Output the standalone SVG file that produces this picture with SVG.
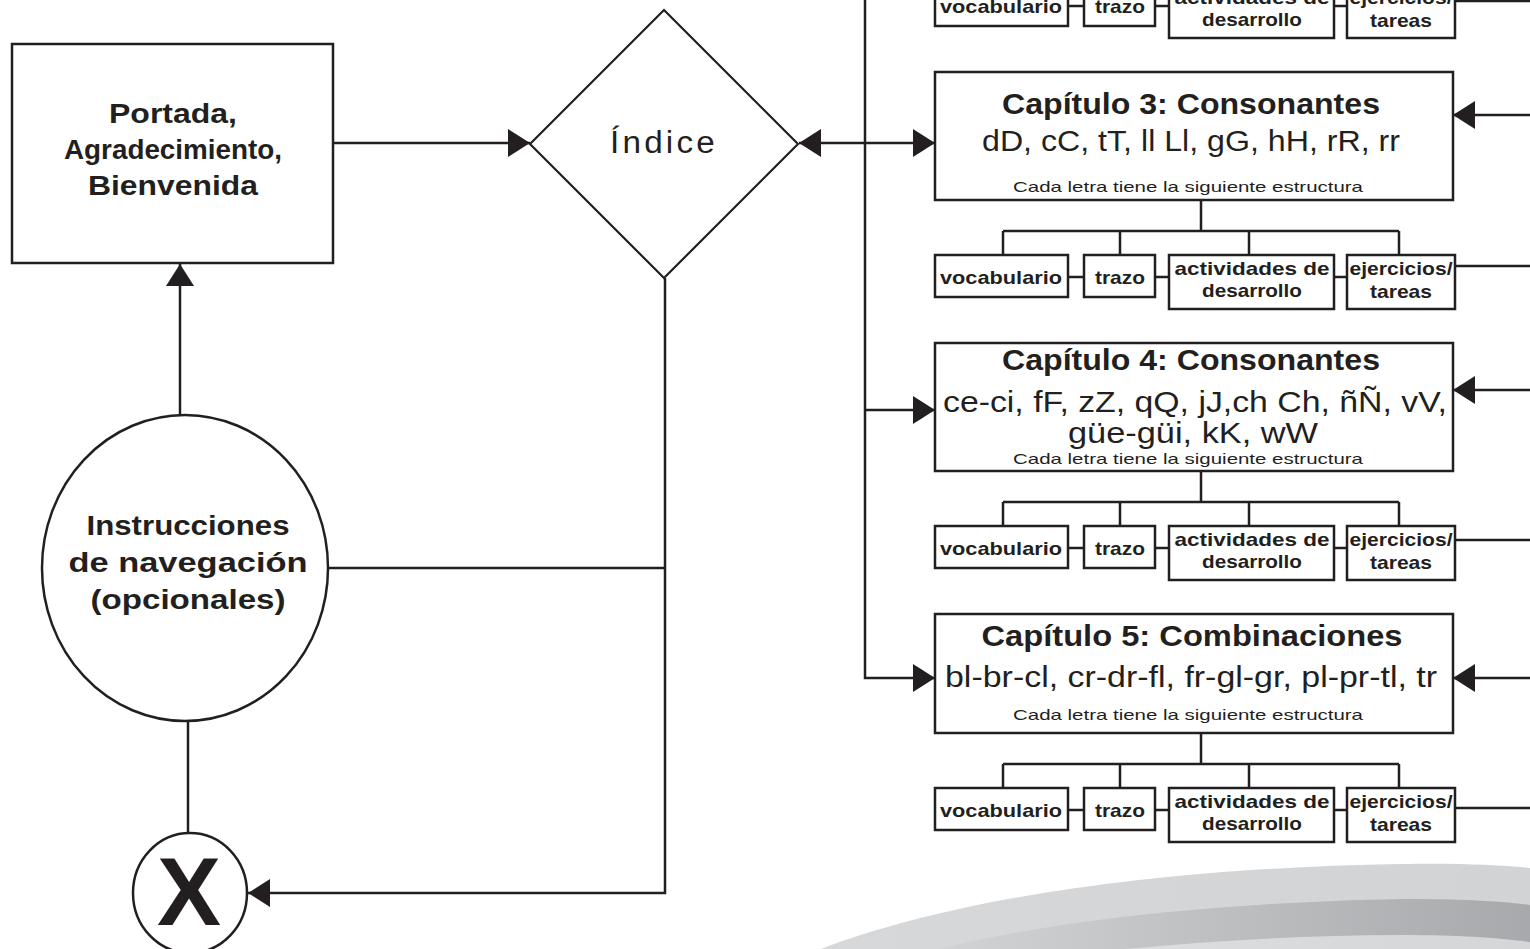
<svg xmlns="http://www.w3.org/2000/svg" width="1530" height="949" viewBox="0 0 1530 949">
<style>
.bx{fill:#fff;stroke:#231f20;stroke-width:2.5}
.ln{fill:none;stroke:#231f20;stroke-width:2.5}
.t{font-family:"Liberation Sans",Arial,sans-serif;fill:#231f20;text-anchor:middle}
.b{font-weight:bold}
.ttl{font-size:29px;font-weight:bold}
.lt{font-size:30px}
.sm{font-size:15px}
.sb{font-size:19px;font-weight:bold}
</style>
<defs>
<marker id="ah" viewBox="0 0 22 28" refX="22" refY="14" markerWidth="22" markerHeight="28" markerUnits="userSpaceOnUse" orient="auto-start-reverse"><path d="M0,0 L22,14 L0,28 Z" fill="#231f20"/></marker>
<linearGradient id="g1" x1="0" x2="1" y1="0" y2="0"><stop offset="0" stop-color="#d7d8da"/><stop offset="1" stop-color="#d2d3d5"/></linearGradient>
<linearGradient id="g2" x1="0" x2="1" y1="0" y2="0"><stop offset="0" stop-color="#d2d3d5"/><stop offset="1" stop-color="#a8a9ac"/></linearGradient>
<linearGradient id="g3" x1="0" x2="1" y1="0" y2="0"><stop offset="0" stop-color="#dcdddf"/><stop offset="1" stop-color="#d5d6d8"/></linearGradient>
</defs>

<g id="swoosh">
<path d="M821,949 C950,900 1150,868 1402,864 C1460,863 1500,865 1530,868 L1530,949 Z" fill="url(#g1)"/>
<path d="M938,949 C1050,922 1200,903 1402,899 C1460,899 1500,901 1530,905 L1530,949 Z" fill="url(#g2)"/>
<path d="M1124,949 C1200,942 1300,935 1402,935 C1460,935 1500,938 1530,942 L1530,949 Z" fill="url(#g3)"/>
</g>

<g id="connectors">
<line class="ln" x1="333" y1="143" x2="530" y2="143" marker-end="url(#ah)"/>
<line class="ln" x1="180" y1="415" x2="180" y2="264" marker-end="url(#ah)"/>
<line class="ln" x1="188" y1="721" x2="188" y2="833"/>
<line class="ln" x1="328" y1="568" x2="665" y2="568"/>
<polyline class="ln" points="665,278 665,893 248,893" marker-end="url(#ah)"/>
<line class="ln" x1="799" y1="143" x2="935" y2="143" marker-start="url(#ah)" marker-end="url(#ah)"/>
<polyline class="ln" points="865,0 865,678 935,678" marker-end="url(#ah)"/>
<line class="ln" x1="865" y1="410" x2="935" y2="410" marker-end="url(#ah)"/>
<line class="ln" x1="1530" y1="115" x2="1453" y2="115" marker-end="url(#ah)"/>
<line class="ln" x1="1530" y1="390" x2="1453" y2="390" marker-end="url(#ah)"/>
<line class="ln" x1="1530" y1="678" x2="1453" y2="678" marker-end="url(#ah)"/>
<path class="ln" d="M1201,200 V231 M1003,231 H1399 M1003,231 V255 M1120,231 V255 M1249,231 V255 M1399,231 V255"/>
<path class="ln" d="M1201,471 V502 M1003,502 H1399 M1003,502 V526 M1120,502 V526 M1249,502 V526 M1399,502 V526"/>
<path class="ln" d="M1201,733 V764 M1003,764 H1399 M1003,764 V788 M1120,764 V788 M1249,764 V788 M1399,764 V788"/>
<path class="ln" d="M1068,6 H1084 M1155,6 H1169 M1334,6 H1347 M1455,1 H1530"/>
<path class="ln" d="M1068,277 H1084 M1155,277 H1169 M1334,277 H1347 M1455,266 H1530"/>
<path class="ln" d="M1068,548 H1084 M1155,548 H1169 M1334,548 H1347 M1455,540 H1530"/>
<path class="ln" d="M1068,810 H1084 M1155,810 H1169 M1334,810 H1347 M1455,808 H1530"/>
</g>

<g id="portada">
<rect class="bx" x="12" y="44" width="321" height="219"/>
<text class="t b" font-size="28" x="173" y="123" textLength="128" lengthAdjust="spacingAndGlyphs">Portada,</text>
<text class="t b" font-size="28" x="173" y="159" textLength="218" lengthAdjust="spacingAndGlyphs">Agradecimiento,</text>
<text class="t b" font-size="28" x="173" y="195" textLength="170" lengthAdjust="spacingAndGlyphs">Bienvenida</text>
</g>

<g id="indice">
<polygon class="bx" points="664,10 798,144 664,278 530,144" style="stroke-width:2.2"/>
<text class="t" font-size="31" x="664" y="153" textLength="108" lengthAdjust="spacingAndGlyphs" letter-spacing="3">Índice</text>
</g>

<g id="instrucciones">
<ellipse class="bx" cx="185" cy="568" rx="143" ry="153"/>
<text class="t b" font-size="28" x="188" y="535" textLength="203" lengthAdjust="spacingAndGlyphs">Instrucciones</text>
<text class="t b" font-size="28" x="188" y="572" textLength="239" lengthAdjust="spacingAndGlyphs">de navegación</text>
<text class="t b" font-size="28" x="188" y="609" textLength="195" lengthAdjust="spacingAndGlyphs">(opcionales)</text>
</g>

<g id="salir">
<ellipse class="bx" cx="190" cy="893" rx="57" ry="60"/>
<text class="t b" font-size="96" x="189" y="925">X</text>
</g>

<g id="row2">
<rect class="bx" x="935" y="-16" width="133" height="42"/>
<text class="t sb" x="1001" y="13" textLength="122" lengthAdjust="spacingAndGlyphs">vocabulario</text>
<rect class="bx" x="1084" y="-16" width="71" height="42"/>
<text class="t sb" x="1120" y="13" textLength="50" lengthAdjust="spacingAndGlyphs">trazo</text>
<rect class="bx" x="1169" y="-16" width="165" height="54"/>
<text class="t sb" x="1252" y="4" textLength="155" lengthAdjust="spacingAndGlyphs">actividades de</text>
<text class="t sb" x="1252" y="26" textLength="100" lengthAdjust="spacingAndGlyphs">desarrollo</text>
<rect class="bx" x="1347" y="-16" width="108" height="54"/>
<text class="t sb" x="1401" y="4" textLength="103" lengthAdjust="spacingAndGlyphs">ejercicios/</text>
<text class="t sb" x="1401" y="27" textLength="62" lengthAdjust="spacingAndGlyphs">tareas</text>
</g>

<g id="cap3">
<rect class="bx" x="935" y="72" width="518" height="128"/>
<text class="t ttl" x="1191" y="114" textLength="378" lengthAdjust="spacingAndGlyphs">Capítulo 3: Consonantes</text>
<text class="t lt" x="1191" y="151" textLength="418" lengthAdjust="spacingAndGlyphs">dD, cC, tT, ll Ll, gG, hH, rR, rr</text>
<text class="t sm" x="1188" y="192" textLength="350" lengthAdjust="spacingAndGlyphs">Cada letra tiene la siguiente estructura</text>
</g>

<g id="row3">
<rect class="bx" x="935" y="255" width="133" height="42"/>
<text class="t sb" x="1001" y="284" textLength="122" lengthAdjust="spacingAndGlyphs">vocabulario</text>
<rect class="bx" x="1084" y="255" width="71" height="42"/>
<text class="t sb" x="1120" y="284" textLength="50" lengthAdjust="spacingAndGlyphs">trazo</text>
<rect class="bx" x="1169" y="255" width="165" height="54"/>
<text class="t sb" x="1252" y="275" textLength="155" lengthAdjust="spacingAndGlyphs">actividades de</text>
<text class="t sb" x="1252" y="297" textLength="100" lengthAdjust="spacingAndGlyphs">desarrollo</text>
<rect class="bx" x="1347" y="255" width="108" height="54"/>
<text class="t sb" x="1401" y="275" textLength="103" lengthAdjust="spacingAndGlyphs">ejercicios/</text>
<text class="t sb" x="1401" y="298" textLength="62" lengthAdjust="spacingAndGlyphs">tareas</text>
</g>

<g id="cap4">
<rect class="bx" x="935" y="343" width="518" height="128"/>
<text class="t ttl" x="1191" y="370" textLength="378" lengthAdjust="spacingAndGlyphs">Capítulo 4: Consonantes</text>
<text class="t lt" x="1195" y="412" textLength="504" lengthAdjust="spacingAndGlyphs">ce-ci, fF, zZ, qQ, jJ,ch Ch, ñÑ, vV,</text>
<text class="t lt" x="1193" y="443" textLength="250" lengthAdjust="spacingAndGlyphs">güe-güi, kK, wW</text>
<text class="t sm" x="1188" y="464" textLength="350" lengthAdjust="spacingAndGlyphs">Cada letra tiene la siguiente estructura</text>
</g>

<g id="row4">
<rect class="bx" x="935" y="526" width="133" height="42"/>
<text class="t sb" x="1001" y="555" textLength="122" lengthAdjust="spacingAndGlyphs">vocabulario</text>
<rect class="bx" x="1084" y="526" width="71" height="42"/>
<text class="t sb" x="1120" y="555" textLength="50" lengthAdjust="spacingAndGlyphs">trazo</text>
<rect class="bx" x="1169" y="526" width="165" height="54"/>
<text class="t sb" x="1252" y="546" textLength="155" lengthAdjust="spacingAndGlyphs">actividades de</text>
<text class="t sb" x="1252" y="568" textLength="100" lengthAdjust="spacingAndGlyphs">desarrollo</text>
<rect class="bx" x="1347" y="526" width="108" height="54"/>
<text class="t sb" x="1401" y="546" textLength="103" lengthAdjust="spacingAndGlyphs">ejercicios/</text>
<text class="t sb" x="1401" y="569" textLength="62" lengthAdjust="spacingAndGlyphs">tareas</text>
</g>

<g id="cap5">
<rect class="bx" x="935" y="614" width="518" height="119"/>
<text class="t ttl" x="1192" y="646" textLength="421" lengthAdjust="spacingAndGlyphs">Capítulo 5: Combinaciones</text>
<text class="t lt" x="1191" y="687" textLength="492" lengthAdjust="spacingAndGlyphs">bl-br-cl, cr-dr-fl, fr-gl-gr, pl-pr-tl, tr</text>
<text class="t sm" x="1188" y="720" textLength="350" lengthAdjust="spacingAndGlyphs">Cada letra tiene la siguiente estructura</text>
</g>

<g id="row5">
<rect class="bx" x="935" y="788" width="133" height="42"/>
<text class="t sb" x="1001" y="817" textLength="122" lengthAdjust="spacingAndGlyphs">vocabulario</text>
<rect class="bx" x="1084" y="788" width="71" height="42"/>
<text class="t sb" x="1120" y="817" textLength="50" lengthAdjust="spacingAndGlyphs">trazo</text>
<rect class="bx" x="1169" y="788" width="165" height="54"/>
<text class="t sb" x="1252" y="808" textLength="155" lengthAdjust="spacingAndGlyphs">actividades de</text>
<text class="t sb" x="1252" y="830" textLength="100" lengthAdjust="spacingAndGlyphs">desarrollo</text>
<rect class="bx" x="1347" y="788" width="108" height="54"/>
<text class="t sb" x="1401" y="808" textLength="103" lengthAdjust="spacingAndGlyphs">ejercicios/</text>
<text class="t sb" x="1401" y="831" textLength="62" lengthAdjust="spacingAndGlyphs">tareas</text>
</g>
</svg>
